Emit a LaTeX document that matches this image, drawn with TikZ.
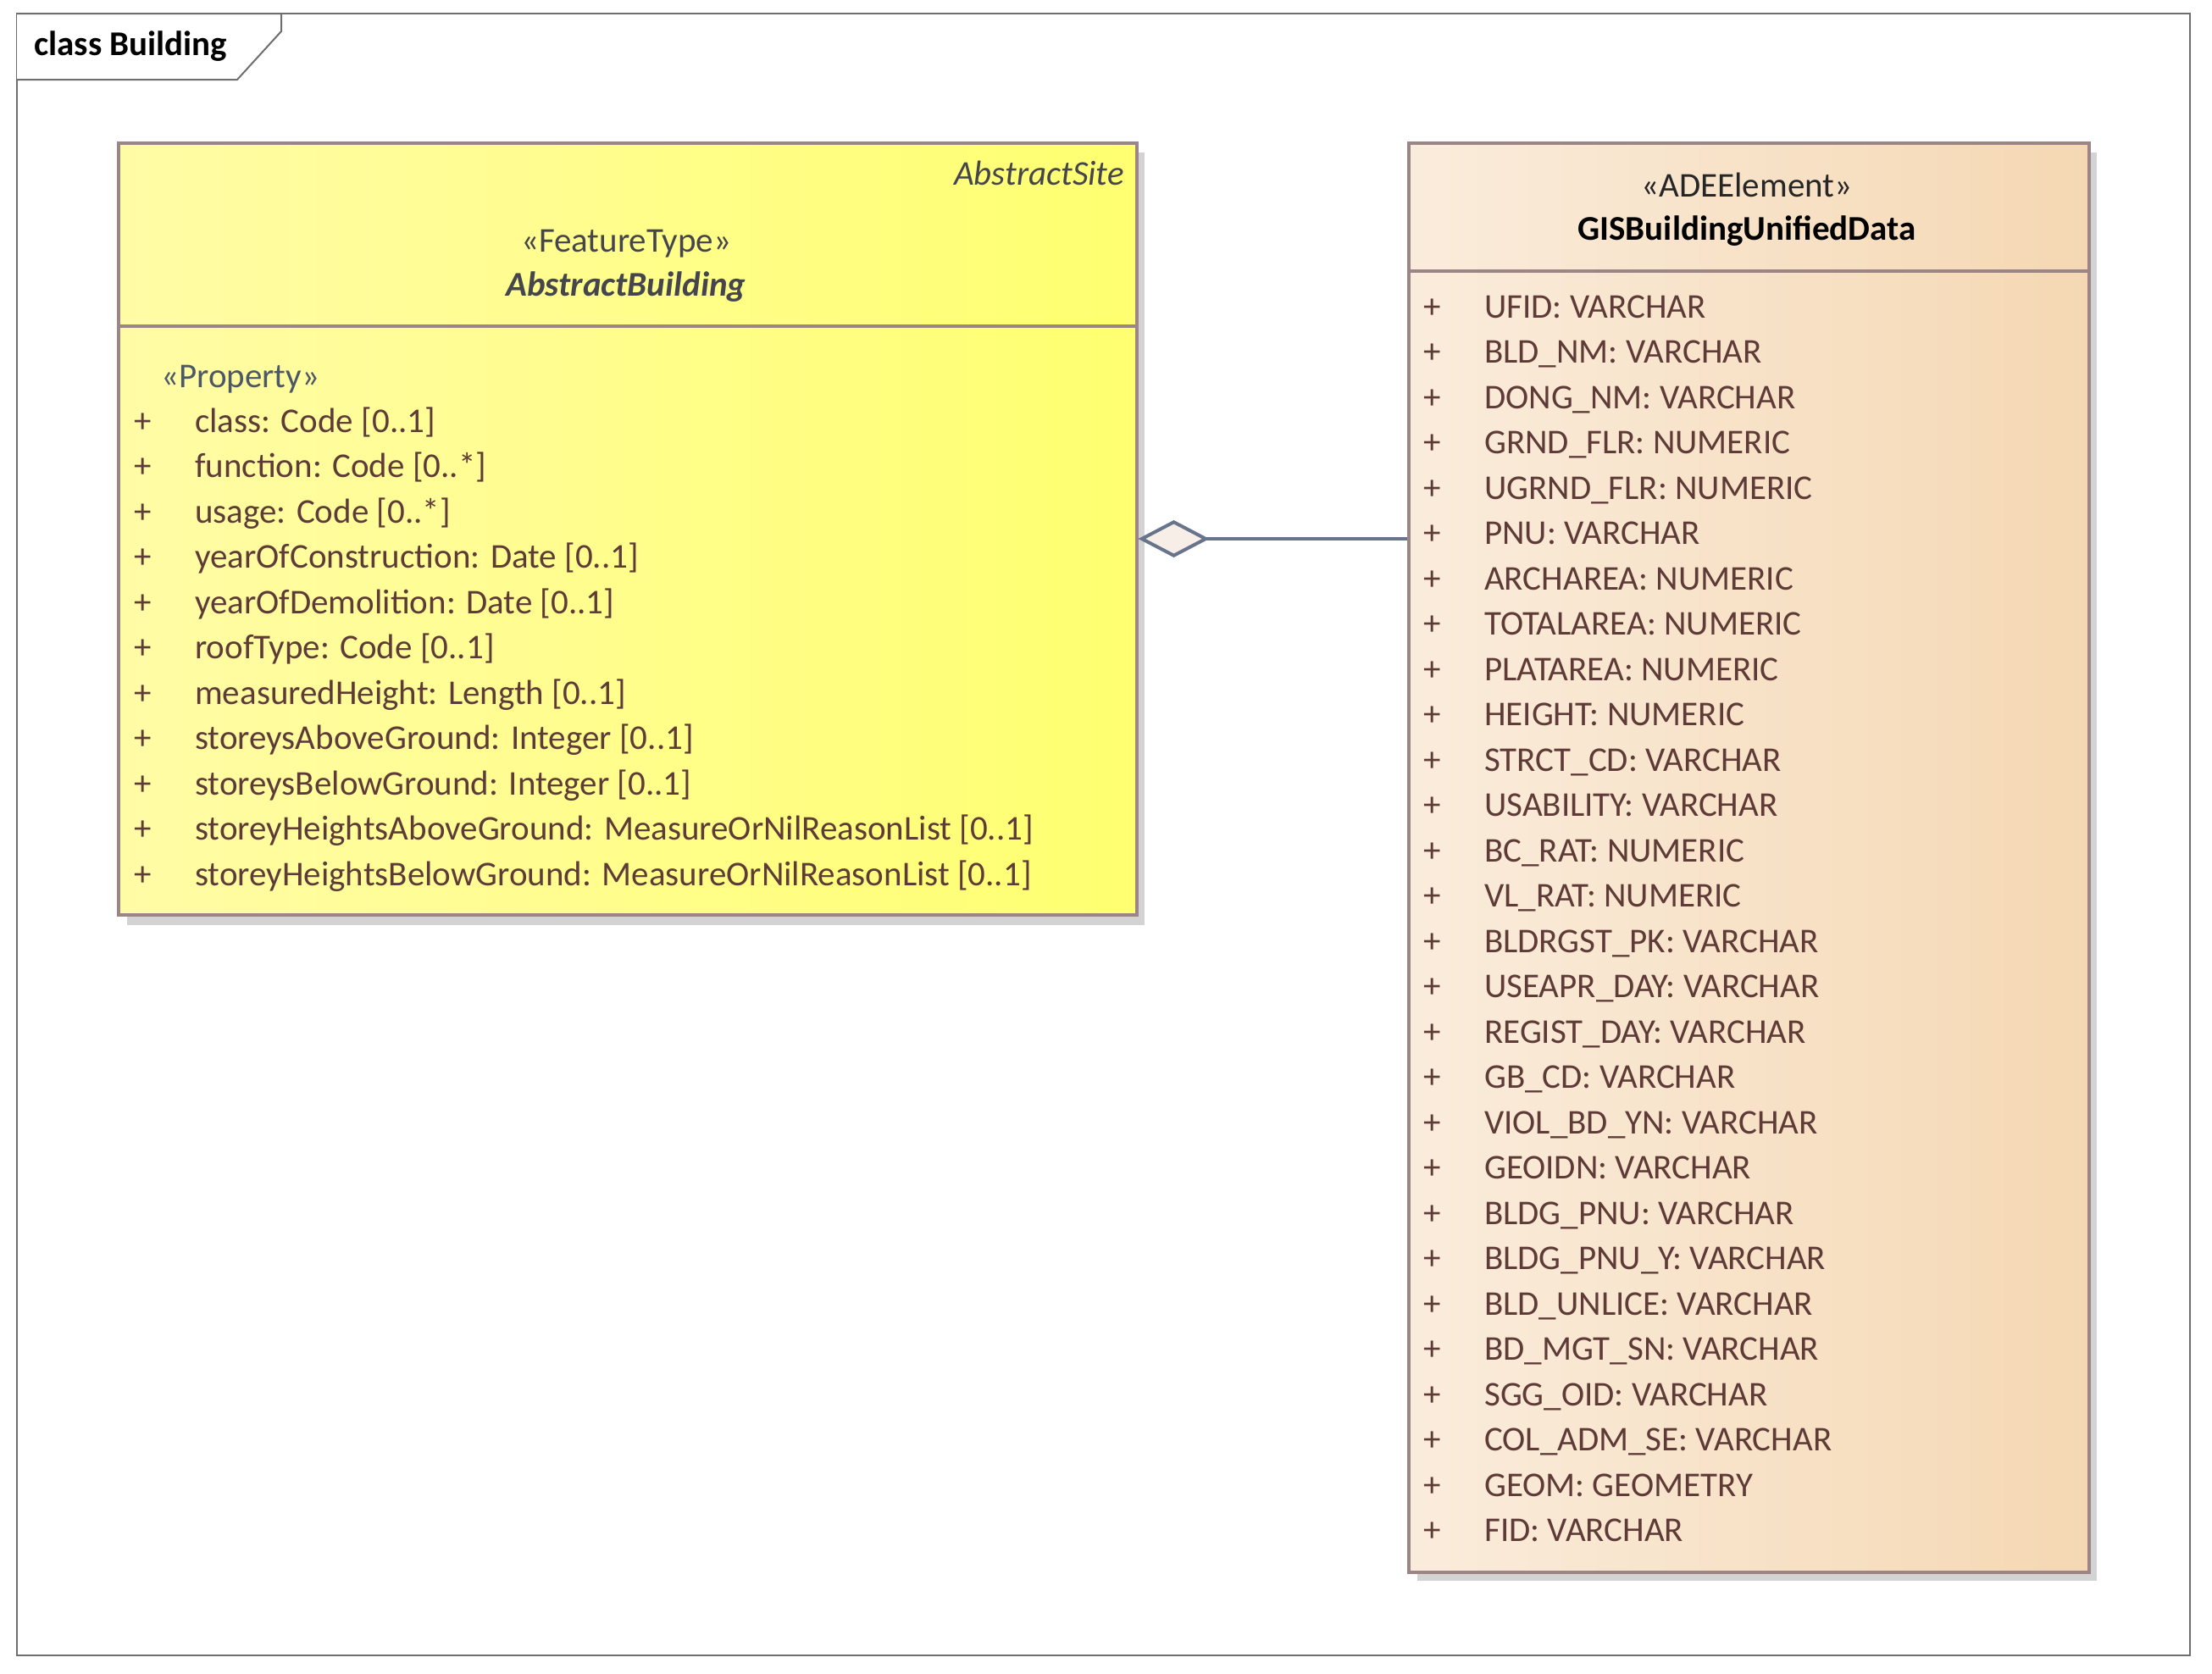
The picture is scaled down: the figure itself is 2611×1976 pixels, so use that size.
\documentclass[tikz,border=0pt]{standalone}
\usepackage{fontspec}
\setmainfont{Carlito}
\usepackage{tikz}
\usetikzlibrary{arrows.meta}
\tikzset{>=latex}
\usepackage{xcolor}
\definecolor{framegray}{HTML}{6E6E6E}
\definecolor{boxline}{HTML}{9C8585}
\definecolor{shadowgray}{HTML}{D3D3D3}
\definecolor{featleft}{HTML}{FFFCA6}
\definecolor{featright}{HTML}{FFFF70}
\definecolor{adeleft}{HTML}{FAECDC}
\definecolor{aderight}{HTML}{F5D8B3}
\definecolor{headtext}{HTML}{45454D}
\definecolor{stereotext}{HTML}{4D5866}
\definecolor{attrtext}{HTML}{5E3B37}
\definecolor{assocline}{HTML}{67748C}
\definecolor{diamondfill}{HTML}{F8EEE8}
\newcommand{\umlfont}{\fontsize{41}{49}\selectfont}
\newcommand{\plusrow}[1]{\makebox[72pt][l]{+}#1}
\tikzset{
  classbox/.style={draw=boxline, line width=3.5pt, anchor=north west, inner sep=0pt},
  attrrow/.style={anchor=base west, inner sep=0pt, text=attrtext, font=\umlfont},
  headrow/.style={anchor=base, inner sep=0pt, font=\umlfont},
  assoc/.style={draw=assocline, line width=3.5pt}
}

\begin{document}
\begin{tikzpicture}[x=1pt,y=-1pt]
  \useasboundingbox (0,0) rectangle (2611,1976);
  \draw[framegray, line width=2pt] (20,16) rectangle (2585,1954);
  \draw[framegray, line width=2pt, fill=white] (20,16) -- (332,16) -- (332,37) -- (280,94) -- (20,94);
  \node[anchor=base west, inner sep=0pt, font=\umlfont\bfseries] (title) at (40,65) {class Building};

  \fill[shadowgray] (150,180) rectangle (1351,1092);
  \node[classbox, left color=featleft, right color=featright, minimum width=1202pt, minimum height=911pt] (building) at (138,167) {};
  \draw[boxline, line width=3.5pt] (building.west |- 0,385) -- (building.east |- 0,385);
  \node[anchor=base east, inner sep=0pt, font=\umlfont\itshape, text=headtext] (site) at (1327,218) {AbstractSite};
  \node[headrow, text=headtext] (featstereo) at (739,297) {«FeatureType»};
  \node[headrow, text=headtext, font=\umlfont\bfseries\itshape] (featname) at (739,349) {AbstractBuilding};
  \node[attrrow, text=stereotext] (propstereo) at (190,457) {«Property»};
  \node[attrrow] (b1) at (158,510) {\plusrow{class: Code [0..1]}};
  \node[attrrow] (b2) at (158,563.5) {\plusrow{function: Code [0..*]}};
  \node[attrrow] (b3) at (158,617) {\plusrow{usage: Code [0..*]}};
  \node[attrrow] (b4) at (158,670.5) {\plusrow{yearOfConstruction: Date [0..1]}};
  \node[attrrow] (b5) at (158,724) {\plusrow{yearOfDemolition: Date [0..1]}};
  \node[attrrow] (b6) at (158,777.5) {\plusrow{roofType: Code [0..1]}};
  \node[attrrow] (b7) at (158,831) {\plusrow{measuredHeight: Length [0..1]}};
  \node[attrrow] (b8) at (158,884.5) {\plusrow{storeysAboveGround: Integer [0..1]}};
  \node[attrrow] (b9) at (158,938) {\plusrow{storeysBelowGround: Integer [0..1]}};
  \node[attrrow] (b10) at (158,991.5) {\plusrow{storeyHeightsAboveGround: MeasureOrNilReasonList [0..1]}};
  \node[attrrow] (b11) at (158,1045) {\plusrow{storeyHeightsBelowGround: MeasureOrNilReasonList [0..1]}};

  \fill[shadowgray] (1673,180) rectangle (2475,1866);
  \node[classbox, left color=adeleft, right color=aderight, minimum width=803pt, minimum height=1687pt] (unified) at (1661,167) {};
  \draw[boxline, line width=3.5pt] (unified.west |- 0,320) -- (unified.east |- 0,320);
  \node[headrow, text=black!85] (adestereo) at (2062,232) {«ADEElement»};
  \node[headrow, font=\umlfont\bfseries] (adename) at (2062,283) {GISBuildingUnifiedData};
  \node[attrrow] (u1) at (1680,375) {\plusrow{UFID: VARCHAR}};
  \node[attrrow] (u2) at (1680,428.5) {\plusrow{BLD\_NM: VARCHAR}};
  \node[attrrow] (u3) at (1680,482) {\plusrow{DONG\_NM: VARCHAR}};
  \node[attrrow] (u4) at (1680,535.5) {\plusrow{GRND\_FLR: NUMERIC}};
  \node[attrrow] (u5) at (1680,589) {\plusrow{UGRND\_FLR: NUMERIC}};
  \node[attrrow] (u6) at (1680,642.5) {\plusrow{PNU: VARCHAR}};
  \node[attrrow] (u7) at (1680,696) {\plusrow{ARCHAREA: NUMERIC}};
  \node[attrrow] (u8) at (1680,749.5) {\plusrow{TOTALAREA: NUMERIC}};
  \node[attrrow] (u9) at (1680,803) {\plusrow{PLATAREA: NUMERIC}};
  \node[attrrow] (u10) at (1680,856.5) {\plusrow{HEIGHT: NUMERIC}};
  \node[attrrow] (u11) at (1680,910) {\plusrow{STRCT\_CD: VARCHAR}};
  \node[attrrow] (u12) at (1680,963.5) {\plusrow{USABILITY: VARCHAR}};
  \node[attrrow] (u13) at (1680,1017) {\plusrow{BC\_RAT: NUMERIC}};
  \node[attrrow] (u14) at (1680,1070.5) {\plusrow{VL\_RAT: NUMERIC}};
  \node[attrrow] (u15) at (1680,1124) {\plusrow{BLDRGST\_PK: VARCHAR}};
  \node[attrrow] (u16) at (1680,1177.5) {\plusrow{USEAPR\_DAY: VARCHAR}};
  \node[attrrow] (u17) at (1680,1231) {\plusrow{REGIST\_DAY: VARCHAR}};
  \node[attrrow] (u18) at (1680,1284.5) {\plusrow{GB\_CD: VARCHAR}};
  \node[attrrow] (u19) at (1680,1338) {\plusrow{VIOL\_BD\_YN: VARCHAR}};
  \node[attrrow] (u20) at (1680,1391.5) {\plusrow{GEOIDN: VARCHAR}};
  \node[attrrow] (u21) at (1680,1445) {\plusrow{BLDG\_PNU: VARCHAR}};
  \node[attrrow] (u22) at (1680,1498.5) {\plusrow{BLDG\_PNU\_Y: VARCHAR}};
  \node[attrrow] (u23) at (1680,1552) {\plusrow{BLD\_UNLICE: VARCHAR}};
  \node[attrrow] (u24) at (1680,1605.5) {\plusrow{BD\_MGT\_SN: VARCHAR}};
  \node[attrrow] (u25) at (1680,1659) {\plusrow{SGG\_OID: VARCHAR}};
  \node[attrrow] (u26) at (1680,1712.5) {\plusrow{COL\_ADM\_SE: VARCHAR}};
  \node[attrrow] (u27) at (1680,1766) {\plusrow{GEOM: GEOMETRY}};
  \node[attrrow] (u28) at (1680,1819.5) {\plusrow{FID: VARCHAR}};

  \draw[assoc, -{Diamond[length=84pt, width=44pt, fill=diamondfill, line width=4pt, line join=miter]}] (unified.west |- 0,636) -- (building.east |- 0,636);
\end{tikzpicture}
\end{document}
